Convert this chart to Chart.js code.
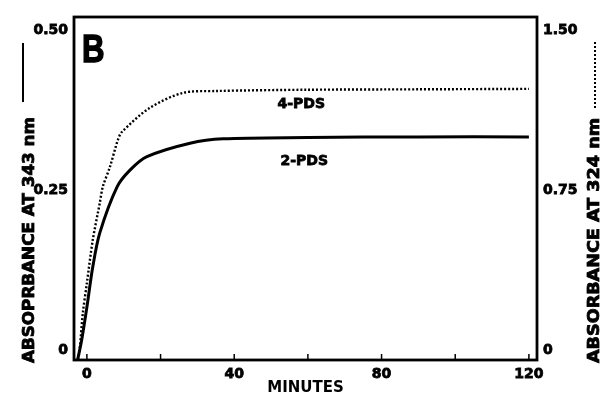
<!DOCTYPE html>
<html>
<head>
<meta charset="utf-8">
<script src="https://cdn.jsdelivr.net/npm/chart.js@4/dist/chart.umd.min.js"></script>
<style>
  html, body { margin: 0; padding: 0; background: #fff; }
  #wrap { width: 601px; height: 397px; }
</style>
</head>
<body>
<div id="wrap"><canvas id="absChart" width="601" height="397"></canvas></div>
<script>
// Data
const minutes2 = [-2.5, -1.4, 0, 1.6, 3.5, 8.2, 11.7, 16.3, 28, 37, 60, 90, 120];
const abs343 = [-0.015, 0.016, 0.067, 0.130, 0.183, 0.255, 0.281, 0.302, 0.323, 0.330, 0.332, 0.333, 0.333];

const minutes4 = [-2.4, -1.9, -1.1, 0, 1.6, 3.5, 4.3, 6.25, 8.4, 9.5, 17, 26, 35, 60, 90, 120];
const abs324 = [-0.047, 0.014, 0.173, 0.314, 0.516, 0.689, 0.764, 0.858, 0.984, 1.022, 1.134, 1.205, 1.214, 1.220, 1.222, 1.224];

const xTicks = [0, 20, 40, 60, 80, 100, 120];
const xLabelTicks = [0, 40, 80, 120];
const leftTicks = [0, 0.25, 0.5];
const rightTicks = [0, 0.75, 1.5];
const leftTickText = ['0', '0.25', '0.50'];
const rightTickText = ['0', '0.75', '1.50'];

const seriesLabels = [
  {text: '4-PDS', x: 58.2, y: 1.153, axis: 'y1'},
  {text: '2-PDS', x: 59, y: 0.295, axis: 'y'}
];

const tickFont = { family: 'DejaVu Sans', weight: 'bold', size: 14 };

function fitText(ctx, text, len) {
  const w = ctx.measureText(text).width;
  return len / w;
}

// heavy text like the scanned print
function boldText(ctx, text, x, y) {
  ctx.fillText(text, x, y);
  ctx.strokeText(text, x, y);
}

const decor = {
  id: 'decor',
  afterDraw(chart) {
    const ctx = chart.ctx;
    const a = chart.chartArea;
    const xs = chart.scales.x;
    ctx.save();
    // frame
    ctx.strokeStyle = '#000';
    ctx.lineWidth = 2.8;
    ctx.strokeRect(a.left, a.top, a.right - a.left, a.bottom - a.top);
    // inner ticks on the time axis
    ctx.lineWidth = 1.5;
    xTicks.forEach(v => {
      const px = xs.getPixelForValue(v);
      ctx.beginPath();
      ctx.moveTo(px, a.bottom);
      ctx.lineTo(px, a.bottom - 6);
      ctx.stroke();
    });
    // panel letter
    ctx.fillStyle = '#000';
    ctx.font = 'bold 38px "Liberation Sans"';
    ctx.textBaseline = 'alphabetic';
    ctx.save();
    ctx.translate(a.left + 8, a.top + 45);
    ctx.scale(0.82, 1);
    ctx.lineWidth = 1.5;
    boldText(ctx, 'B', 0, 0);
    ctx.restore();
    // curve labels
    ctx.font = 'bold 14px "DejaVu Sans"';
    ctx.textAlign = 'center';
    ctx.textBaseline = 'middle';
    ctx.lineWidth = 0.8;
    seriesLabels.forEach(l => {
      boldText(ctx, l.text, xs.getPixelForValue(l.x), chart.scales[l.axis].getPixelForValue(l.y));
    });
    // axis titles with line keys
    ctx.font = 'bold 16px "DejaVu Sans"';
    ctx.textAlign = 'left';
    ctx.textBaseline = 'alphabetic';
    // left
    let t = 'ABSOPRBANCE AT 343 nm';
    ctx.save();
    ctx.translate(34, 363);
    ctx.rotate(-Math.PI / 2);
    ctx.scale(fitText(ctx, t, 246), 1);
    ctx.lineWidth = 0.8;
    boldText(ctx, t, 0, 0);
    ctx.restore();
    ctx.lineWidth = 2;
    ctx.beginPath();
    ctx.moveTo(23, 102);
    ctx.lineTo(23, 43);
    ctx.stroke();
    // right
    t = 'ABSORBANCE AT 324 nm';
    ctx.save();
    ctx.translate(599, 363);
    ctx.rotate(-Math.PI / 2);
    ctx.scale(fitText(ctx, t, 245), 1);
    ctx.lineWidth = 0.8;
    boldText(ctx, t, 0, 0);
    ctx.restore();
    ctx.lineWidth = 2;
    ctx.setLineDash([2, 2]);
    ctx.beginPath();
    ctx.moveTo(595, 108);
    ctx.lineTo(595, 40);
    ctx.stroke();
    ctx.restore();
  }
};

const ctx = document.getElementById('absChart').getContext('2d');
const absChart = new Chart(ctx, {
  type: 'line',
  data: {
    datasets: [
      {
        label: '2-PDS',
        data: minutes2.map((m, i) => ({x: m, y: abs343[i]})),
        yAxisID: 'y',
        borderColor: '#000',
        borderWidth: 3,
        pointRadius: 0,
        fill: false,
        tension: 0.3
      },
      {
        label: '4-PDS',
        data: minutes4.map((m, i) => ({x: m, y: abs324[i]})),
        yAxisID: 'y1',
        borderColor: '#000',
        borderWidth: 2.4,
        borderDash: [2, 2],
        pointRadius: 0,
        fill: false,
        tension: 0.3
      }
    ]
  },
  options: {
    responsive: false,
    animation: false,
    layout: { padding: { top: 17, left: 0, right: 0, bottom: 0 } },
    plugins: { legend: { display: false }, tooltip: { enabled: false } },
    scales: {
      x: {
        type: 'linear',
        min: -3.5,
        max: 122.2,
        afterBuildTicks: s => { s.ticks = xTicks.map(v => ({value: v})); },
        afterFit: s => { s.height = 37; },
        grid: { display: false, drawTicks: false },
        border: { display: false },
        ticks: {
          color: '#000',
          font: tickFont,
          textStrokeColor: '#000',
          textStrokeWidth: 0.8,
          padding: 6,
          maxRotation: 0,
          autoSkip: false,
          callback: v => xLabelTicks.includes(v) ? String(v) : ''
        },
        title: {
          display: true,
          text: 'MINUTES',
          color: '#000',
          font: { family: 'DejaVu Sans', weight: 'bold', size: 15 },
          padding: 0
        }
      },
      y: {
        position: 'left',
        min: -0.0156,
        max: 0.5203,
        afterBuildTicks: s => { s.ticks = leftTicks.map(v => ({value: v})); },
        afterFit: s => { s.width = 74; },
        grid: { display: false, drawTicks: false },
        border: { display: false },
        ticks: {
          color: '#000',
          font: tickFont,
          textStrokeColor: '#000',
          textStrokeWidth: 0.8,
          padding: 6,
          callback: (v, i) => leftTickText[i]
        }
      },
      y1: {
        position: 'right',
        min: -0.0469,
        max: 1.561,
        afterBuildTicks: s => { s.ticks = rightTicks.map(v => ({value: v})); },
        afterFit: s => { s.width = 64; },
        grid: { display: false, drawTicks: false },
        border: { display: false },
        ticks: {
          color: '#000',
          font: tickFont,
          textStrokeColor: '#000',
          textStrokeWidth: 0.8,
          padding: 6,
          callback: (v, i) => rightTickText[i]
        }
      }
    }
  },
  plugins: [decor]
});
</script>
</body>
</html>
